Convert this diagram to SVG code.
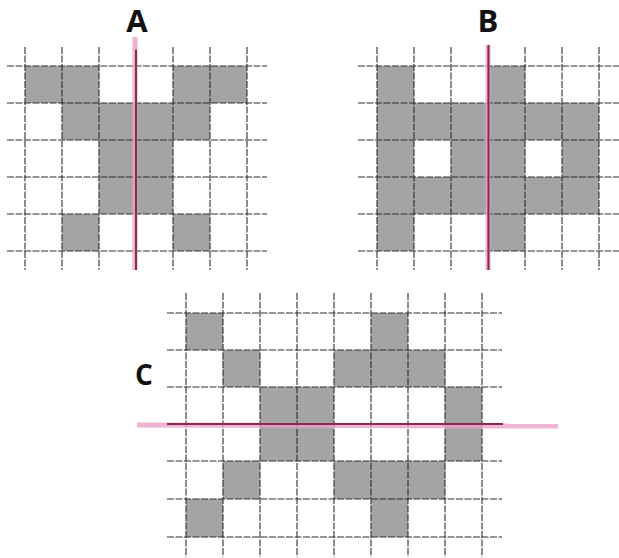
<svg xmlns="http://www.w3.org/2000/svg" width="619" height="558" viewBox="0 0 619 558">
<style>
.cell{fill:#a4a4a4}
.grid line{stroke:#2e2e2e;stroke-width:1.1;stroke-dasharray:7 1.5}
.lbl{font-family:"Open Sans","Liberation Sans",sans-serif;font-weight:700;fill:#111;text-anchor:middle}
.axisHalo{stroke:#eaa2c6;stroke-width:5;opacity:0.8}
.axisCore{stroke:#8a2a50;stroke-width:2}
</style>
<rect width="619" height="558" fill="#fff"/>

<g id="gridA">
  <g>
    <rect class="cell" x="25" y="66" width="74" height="37"/>
    <rect class="cell" x="173" y="66" width="74" height="37"/>
    <rect class="cell" x="62" y="103" width="148" height="37"/>
    <rect class="cell" x="99" y="140" width="74" height="74"/>
    <rect class="cell" x="62" y="214" width="37" height="37"/>
    <rect class="cell" x="173" y="214" width="37" height="37"/>
  </g>
  <g class="grid">
    <line x1="25" y1="47" x2="25" y2="270"/>
    <line x1="62" y1="47" x2="62" y2="270"/>
    <line x1="99" y1="47" x2="99" y2="270"/>
    <line x1="136" y1="47" x2="136" y2="270"/>
    <line x1="173" y1="47" x2="173" y2="270"/>
    <line x1="210" y1="47" x2="210" y2="270"/>
    <line x1="247" y1="47" x2="247" y2="270"/>
    <line x1="7" y1="66" x2="267" y2="66"/>
    <line x1="7" y1="103" x2="267" y2="103"/>
    <line x1="7" y1="140" x2="267" y2="140"/>
    <line x1="7" y1="177" x2="267" y2="177"/>
    <line x1="7" y1="214" x2="267" y2="214"/>
    <line x1="7" y1="251" x2="267" y2="251"/>
  </g>
  <line class="axisHalo" x1="135" y1="37" x2="135" y2="270"/>
  <line class="axisCore" x1="136" y1="50" x2="136" y2="270"/>
  <text class="lbl" x="137" y="32" font-size="31">A</text>
</g>

<g id="gridB">
  <g>
    <rect class="cell" x="377" y="66" width="37" height="37"/>
    <rect class="cell" x="488" y="66" width="37" height="37"/>
    <rect class="cell" x="377" y="103" width="222" height="37"/>
    <rect class="cell" x="377" y="140" width="37" height="37"/>
    <rect class="cell" x="451" y="140" width="74" height="37"/>
    <rect class="cell" x="562" y="140" width="37" height="37"/>
    <rect class="cell" x="377" y="177" width="222" height="37"/>
    <rect class="cell" x="377" y="214" width="37" height="37"/>
    <rect class="cell" x="488" y="214" width="37" height="37"/>
  </g>
  <g class="grid">
    <line x1="377" y1="47" x2="377" y2="270"/>
    <line x1="414" y1="47" x2="414" y2="270"/>
    <line x1="451" y1="47" x2="451" y2="270"/>
    <line x1="488" y1="47" x2="488" y2="270"/>
    <line x1="525" y1="47" x2="525" y2="270"/>
    <line x1="562" y1="47" x2="562" y2="270"/>
    <line x1="599" y1="47" x2="599" y2="270"/>
    <line x1="358" y1="66" x2="619" y2="66"/>
    <line x1="358" y1="103" x2="619" y2="103"/>
    <line x1="358" y1="140" x2="619" y2="140"/>
    <line x1="358" y1="177" x2="619" y2="177"/>
    <line x1="358" y1="214" x2="619" y2="214"/>
    <line x1="358" y1="251" x2="619" y2="251"/>
  </g>
  <line class="axisHalo" x1="488" y1="45" x2="488" y2="270"/>
  <line class="axisCore" x1="488.5" y1="45" x2="488.5" y2="270"/>
  <text class="lbl" x="488" y="32" font-size="31">B</text>
</g>

<g id="gridC">
  <g>
    <rect class="cell" x="186" y="313" width="37" height="37"/>
    <rect class="cell" x="371" y="313" width="37" height="37"/>
    <rect class="cell" x="223" y="350" width="37" height="37"/>
    <rect class="cell" x="334" y="350" width="111" height="37"/>
    <rect class="cell" x="260" y="387" width="74" height="74"/>
    <rect class="cell" x="445" y="387" width="37" height="74"/>
    <rect class="cell" x="223" y="461" width="37" height="38"/>
    <rect class="cell" x="334" y="461" width="111" height="38"/>
    <rect class="cell" x="186" y="499" width="37" height="38"/>
    <rect class="cell" x="371" y="499" width="37" height="38"/>
  </g>
  <g class="grid">
    <line x1="186" y1="293" x2="186" y2="557"/>
    <line x1="223" y1="293" x2="223" y2="557"/>
    <line x1="260" y1="293" x2="260" y2="557"/>
    <line x1="297" y1="293" x2="297" y2="557"/>
    <line x1="334" y1="293" x2="334" y2="557"/>
    <line x1="371" y1="293" x2="371" y2="557"/>
    <line x1="408" y1="293" x2="408" y2="557"/>
    <line x1="445" y1="293" x2="445" y2="557"/>
    <line x1="482" y1="293" x2="482" y2="557"/>
    <line x1="167" y1="313" x2="502" y2="313"/>
    <line x1="167" y1="350" x2="502" y2="350"/>
    <line x1="167" y1="387" x2="502" y2="387"/>
    <line x1="167" y1="424" x2="502" y2="424"/>
    <line x1="167" y1="461" x2="502" y2="461"/>
    <line x1="167" y1="499" x2="502" y2="499"/>
    <line x1="167" y1="537" x2="502" y2="537"/>
  </g>
  <line class="axisHalo" x1="137" y1="425" x2="558" y2="426"/>
  <line class="axisCore" x1="167" y1="424" x2="503" y2="424"/>
  <text class="lbl" x="144" y="385" font-size="28">C</text>
</g>
</svg>
